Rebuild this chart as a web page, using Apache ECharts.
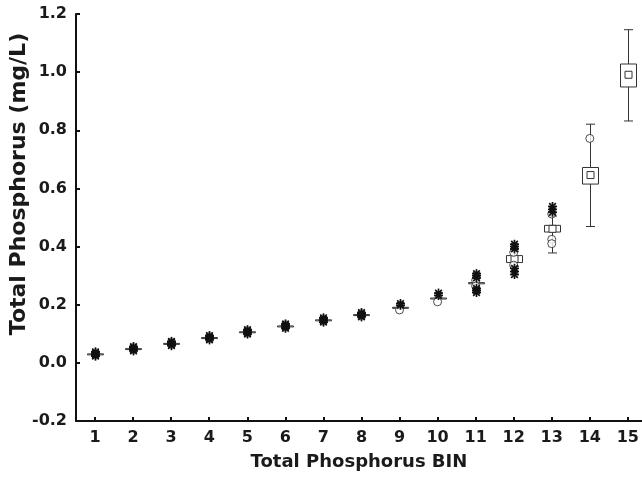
<!DOCTYPE html>
<html>
<head>
<meta charset="utf-8">
<script src="https://cdn.jsdelivr.net/npm/echarts@6/dist/echarts.min.js"></script>
<style>
html,body{margin:0;padding:0;background:#fff;}
#chart{width:642px;height:484px;}
</style>
</head>
<body>
<div id="chart"></div>
<script>
const bins = [1,2,3,4,5,6,7,8,9,10,11,12,13,14,15];
const yTicks = [-0.2,0.0,0.2,0.4,0.6,0.8,1.0,1.2];
const medians     = [0.030,0.048,0.066,0.086,0.106,0.126,0.147,0.165,0.190,0.222,0.274,0.357,0.461,0.646,0.991];
const boxLow      = [0.029,0.047,0.065,0.085,0.105,0.125,0.146,0.164,0.189,0.221,0.272,0.345,0.450,0.615,0.949];
const boxHigh     = [0.031,0.049,0.067,0.087,0.107,0.127,0.148,0.166,0.191,0.223,0.276,0.369,0.473,0.672,1.028];
const whiskerLow  = [0.029,0.047,0.065,0.085,0.105,0.125,0.146,0.164,0.189,0.221,0.272,0.332,0.378,0.469,0.832];
const whiskerHigh = [0.031,0.049,0.067,0.087,0.107,0.127,0.148,0.166,0.191,0.223,0.276,0.384,0.505,0.821,1.146];

const outlierBins   = [9,10,11,11,12,12,13,13,13,14];
const outlierValues = [0.182,0.210,0.284,0.264,0.336,0.380,0.512,0.425,0.410,0.772];

const extremeBins = [1,1,1,1, 2,2,2,2, 3,3,3,3, 4,4,4,4, 5,5,5,5, 6,6,6,6, 7,7,7,7, 8,8,8,8,
                     9,9, 10,10, 11,11,11,11,11,11, 12,12,12,12,12,12, 13,13,13];
const extremeValues = [0.023,0.028,0.034,0.038, 0.041,0.046,0.052,0.056, 0.059,0.064,0.070,0.074,
                       0.079,0.084,0.090,0.094, 0.099,0.104,0.110,0.114, 0.119,0.124,0.130,0.134,
                       0.140,0.145,0.151,0.155, 0.158,0.163,0.169,0.173,
                       0.198,0.204, 0.232,0.240, 0.292,0.300,0.307,0.256,0.249,0.242,
                       0.392,0.400,0.408,0.325,0.314,0.304, 0.518,0.528,0.538];

const xTitle = 'Total Phosphorus BIN';
const yTitle = 'Total Phosphorus (mg/L)';

const boxData = bins.map((b,i)=>[b, whiskerLow[i], boxLow[i], medians[i], boxHigh[i], whiskerHigh[i]]);
const outlierData = outlierBins.map((b,i)=>[b, outlierValues[i]]);
const extremeData = extremeBins.map((b,i)=>[b, extremeValues[i]]);

const LINE = '#333';
const FONT = '"DejaVu Sans", "Liberation Sans", Arial, sans-serif';
const TXT = '#1a1a1a';

function renderBox(params, api){
  const x = api.value(0);
  const pWL = api.coord([x, api.value(1)]);
  const pBL = api.coord([x, api.value(2)]);
  const pMD = api.coord([x, api.value(3)]);
  const pBH = api.coord([x, api.value(4)]);
  const pWH = api.coord([x, api.value(5)]);
  const cx = Math.round(pMD[0]) + 0.5;
  const bw = 16, cw = 9, ms = 7;
  const st = {stroke: LINE, lineWidth: 1, fill: null};
  const ch = [];
  if (pWH[1] < pBH[1] - 0.5) {
    ch.push({type:'line', shape:{x1:cx,y1:pWH[1],x2:cx,y2:pBH[1]}, style:st});
    ch.push({type:'line', shape:{x1:cx-cw/2,y1:pWH[1],x2:cx+cw/2,y2:pWH[1]}, style:st});
  }
  if (pWL[1] > pBL[1] + 0.5) {
    ch.push({type:'line', shape:{x1:cx,y1:pBL[1],x2:cx,y2:pWL[1]}, style:st});
    ch.push({type:'line', shape:{x1:cx-cw/2,y1:pWL[1],x2:cx+cw/2,y2:pWL[1]}, style:st});
  }
  const h = Math.max(1, pBL[1]-pBH[1]);
  ch.push({type:'rect', shape:{x:cx-bw/2, y:pBH[1], width:bw, height:h},
           style:{stroke:LINE, lineWidth:1, fill:'#fff'}});
  if (h > 5) {
    ch.push({type:'rect', shape:{x:cx-ms/2, y:pMD[1]-ms/2, width:ms, height:ms},
             style:{stroke:LINE, lineWidth:1, fill:'#fff'}});
  }
  return {type:'group', children:ch};
}

function renderStar(params, api){
  const p = api.coord([api.value(0), api.value(1)]);
  const r = 4.5, d = 3.3;
  const st = {stroke:'#111', lineWidth:1.7};
  const x = Math.round(p[0]) + 0.5, y = p[1];
  return {type:'group', children:[
    {type:'line', shape:{x1:x-r,y1:y,x2:x+r,y2:y}, style:st},
    {type:'line', shape:{x1:x,y1:y-r,x2:x,y2:y+r}, style:st},
    {type:'line', shape:{x1:x-d,y1:y-d,x2:x+d,y2:y+d}, style:st},
    {type:'line', shape:{x1:x-d,y1:y+d,x2:x+d,y2:y-d}, style:st}
  ]};
}

const chart = echarts.init(document.getElementById('chart'), null, {renderer:'canvas'});
chart.setOption({
  animation: false,
  backgroundColor: '#fff',
  grid: {left: 76, top: 14, right: 0, bottom: 63},
  graphic: [{
    type: 'text', x: 19, y: 184, rotation: Math.PI/2,
    style: {text: yTitle, fontFamily: 'DejaVu Sans', fontWeight: 'bold', fontSize: 22, fill: TXT,
            textAlign: 'center', textVerticalAlign: 'middle'}
  }],
  xAxis: {
    type: 'value', min: 0.5, max: 15.37,
    name: xTitle, nameLocation: 'middle', nameGap: 32,
    nameTextStyle: {fontFamily: FONT, fontWeight: 'bold', fontSize: 18, color: TXT},
    axisLine: {show: true, onZero: false, lineStyle: {color: '#111', width: 2}},
    axisTick: {show: true, inside: true, length: 4, lineStyle: {color: '#111', width: 2}, customValues: bins},
    axisLabel: {customValues: bins, margin: 9, fontFamily: FONT, fontWeight: 'bold', fontSize: 16, color: TXT,
                formatter: v => String(Math.round(v))},
    splitLine: {show: false}
  },
  yAxis: {
    type: 'value', min: -0.2, max: 1.2, interval: 0.2,
    axisLine: {show: true, onZero: false, lineStyle: {color: '#111', width: 2}},
    axisTick: {show: true, inside: true, length: 4, lineStyle: {color: '#111', width: 2}},
    axisLabel: {margin: 9, fontFamily: FONT, fontWeight: 'bold', fontSize: 16, color: TXT,
                customValues: yTicks, formatter: v => v.toFixed(1)},
    splitLine: {show: false}
  },
  series: [
    {type: 'custom', name: 'box', renderItem: renderBox, data: boxData, z: 2,
     encode: {x: 0, y: [1,2,3,4,5]}},
    {type: 'scatter', name: 'outliers', data: outlierData, symbol: 'circle', symbolSize: 8, z: 3,
     itemStyle: {color: '#fff', borderColor: '#222', borderWidth: 1}},
    {type: 'custom', name: 'extremes', renderItem: renderStar, data: extremeData, z: 4,
     encode: {x: 0, y: 1}}
  ]
});
</script>
</body>
</html>
